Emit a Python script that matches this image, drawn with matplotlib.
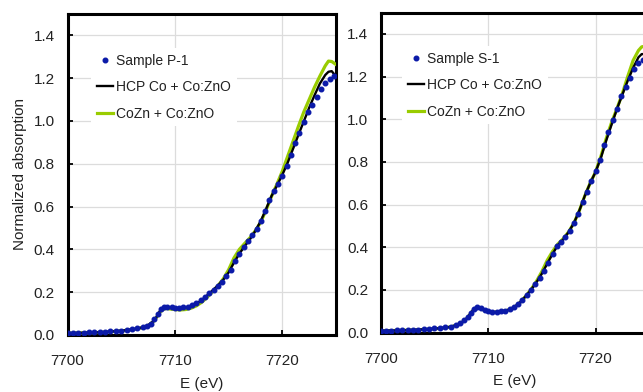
import matplotlib
matplotlib.use("Agg")
import matplotlib.pyplot as plt
from matplotlib.ticker import FixedLocator, FixedFormatter

plt.rcParams['font.family'] = ['Liberation Sans', 'DejaVu Sans']

# ---------------- data ----------------
x_ticks = [7700, 7710, 7720]
x_tick_labels = ["7700", "7710", "7720"]
y_ticks = [0.0, 0.2, 0.4, 0.6, 0.8, 1.0, 1.2, 1.4]
y_tick_labels = ["0.0", "0.2", "0.4", "0.6", "0.8", "1.0", "1.2", "1.4"]

# measured points (dots)
dot_x = [7700.0, 7700.5, 7701.0, 7701.5, 7702.0, 7702.5, 7703.0, 7703.5, 7704.0, 7704.5,
         7705.0, 7705.5, 7706.0, 7706.5, 7707.0, 7707.4, 7707.8, 7708.1, 7708.4, 7708.7,
         7709.0, 7709.3, 7709.7, 7710.0, 7710.4, 7710.8, 7711.2, 7711.6, 7712.0, 7712.4,
         7712.8, 7713.2, 7713.6, 7714.0, 7714.4, 7714.8, 7715.2, 7715.6, 7716.0, 7716.4,
         7716.8, 7717.2, 7717.6, 7718.0, 7718.4, 7718.8, 7719.2, 7719.6, 7720.0, 7720.4,
         7720.8, 7721.2, 7721.6, 7722.0, 7722.4, 7722.8, 7723.2, 7723.6, 7724.0, 7724.4,
         7724.8]
p1_dots = [0.010, 0.010, 0.011, 0.011, 0.012, 0.013, 0.014, 0.015, 0.017, 0.019,
           0.021, 0.024, 0.027, 0.031, 0.037, 0.044, 0.050, 0.075, 0.100, 0.122,
           0.131, 0.132, 0.129, 0.128, 0.127, 0.129, 0.133, 0.139, 0.148, 0.162,
           0.178, 0.195, 0.212, 0.230, 0.250, 0.275, 0.305, 0.345, 0.380, 0.410,
           0.437, 0.465, 0.497, 0.535, 0.580, 0.632, 0.672, 0.705, 0.745, 0.790,
           0.840, 0.895, 0.945, 0.995, 1.040, 1.077, 1.112, 1.148, 1.178, 1.198,
           1.212]
s1_dots = [0.008, 0.008, 0.009, 0.010, 0.011, 0.012, 0.013, 0.014, 0.016, 0.017,
           0.019, 0.021, 0.024, 0.028, 0.035, 0.043, 0.058, 0.075, 0.092, 0.110,
           0.118, 0.115, 0.105, 0.099, 0.096, 0.097, 0.099, 0.103, 0.109, 0.119,
           0.134, 0.153, 0.175, 0.200, 0.226, 0.256, 0.289, 0.328, 0.366, 0.405,
           0.425, 0.447, 0.476, 0.513, 0.557, 0.611, 0.660, 0.708, 0.755, 0.808,
           0.880, 0.942, 0.995, 1.050, 1.108, 1.152, 1.193, 1.235, 1.262, 1.279,
           1.288]

# fitted curves
fit_x = [7700, 7701, 7702, 7703, 7704, 7705, 7706, 7706.5, 7707, 7707.5,
         7708, 7708.3, 7708.6, 7708.9, 7709.2, 7709.6, 7710, 7710.5, 7711, 7711.5,
         7712, 7712.5, 7713, 7713.5, 7714, 7714.5, 7715, 7715.5, 7716, 7716.5,
         7717, 7717.5, 7718, 7718.5, 7719, 7719.5, 7720, 7720.5, 7721, 7721.5,
         7722, 7722.5, 7723, 7723.5, 7724, 7724.3, 7724.6, 7725]
p1_hcp = [0.009, 0.010, 0.011, 0.013, 0.016, 0.020, 0.026, 0.030, 0.036, 0.045,
          0.064, 0.085, 0.112, 0.128, 0.131, 0.128, 0.126, 0.125, 0.128, 0.135,
          0.146, 0.163, 0.185, 0.208, 0.231, 0.258, 0.292, 0.338, 0.380, 0.415,
          0.448, 0.487, 0.533, 0.590, 0.650, 0.698, 0.748, 0.805, 0.870, 0.935,
          0.998, 1.062, 1.120, 1.175, 1.215, 1.230, 1.233, 1.208]
p1_cozn = [0.008, 0.009, 0.010, 0.012, 0.015, 0.019, 0.025, 0.029, 0.035, 0.044,
           0.063, 0.083, 0.106, 0.120, 0.124, 0.121, 0.119, 0.117, 0.119, 0.125,
           0.136, 0.153, 0.176, 0.202, 0.230, 0.262, 0.305, 0.360, 0.400, 0.428,
           0.455, 0.488, 0.528, 0.585, 0.648, 0.705, 0.765, 0.835, 0.905, 0.975,
           1.042, 1.100, 1.158, 1.210, 1.258, 1.280, 1.278, 1.264]
s1_hcp = [0.008, 0.009, 0.010, 0.012, 0.015, 0.018, 0.023, 0.027, 0.034, 0.045,
          0.066, 0.085, 0.105, 0.117, 0.117, 0.106, 0.099, 0.096, 0.097, 0.101,
          0.108, 0.121, 0.143, 0.170, 0.200, 0.235, 0.275, 0.322, 0.368, 0.410,
          0.436, 0.471, 0.514, 0.572, 0.640, 0.700, 0.752, 0.818, 0.900, 0.975,
          1.048, 1.115, 1.180, 1.240, 1.290, 1.305, 1.305, 1.298]
s1_cozn = [0.008, 0.009, 0.010, 0.012, 0.014, 0.017, 0.022, 0.026, 0.033, 0.044,
           0.065, 0.084, 0.104, 0.116, 0.116, 0.105, 0.098, 0.095, 0.096, 0.100,
           0.107, 0.120, 0.142, 0.170, 0.202, 0.240, 0.285, 0.338, 0.380, 0.415,
           0.440, 0.472, 0.514, 0.572, 0.640, 0.700, 0.752, 0.825, 0.910, 0.985,
           1.050, 1.120, 1.200, 1.275, 1.322, 1.339, 1.342, 1.338]

panels = [
    ("Sample P-1", p1_dots, p1_hcp, p1_cozn),
    ("Sample S-1", s1_dots, s1_hcp, s1_cozn),
]

# ---------------- figure ----------------
W, H = 643, 392
fig = plt.figure(figsize=(W / 100, H / 100), dpi=100)

ax_rects = [
    [67.5 / W, (H - 335) / H, 268.5 / W, 321 / H],
    [380.7 / W, (H - 332.5) / H, 268.5 / W, 320 / H],
]
legend_anchor = [(0.089, 0.894), (0.081, 0.895)]

BLUE = '#0b1aa8'
GREEN = '#99cc00'

for i, (name, dots, hcp, cozn) in enumerate(panels):
    ax = fig.add_axes(ax_rects[i])
    ax.set_xlim(7700, 7725)
    ax.set_ylim(0, 1.5)
    ax.grid(True, color='#dcdcdc', linewidth=0.9, zorder=0)
    ax.set_axisbelow(True)

    ax.plot(fit_x, cozn, color=GREEN, lw=2.3, label="CoZn + Co:ZnO", zorder=3)
    ax.plot(fit_x, hcp, color='black', lw=1.7, label="HCP Co + Co:ZnO", zorder=4)
    ax.plot(dot_x, dots, linestyle='none', marker='o', ms=3.3, color=BLUE,
            mec=BLUE, label=name, zorder=5)

    ax.xaxis.set_major_locator(FixedLocator(x_ticks))
    ax.xaxis.set_major_formatter(FixedFormatter(x_tick_labels))
    ax.yaxis.set_major_locator(FixedLocator(y_ticks))
    ax.yaxis.set_major_formatter(FixedFormatter(y_tick_labels))
    ax.tick_params(axis='both', direction='in', length=3.5, width=1.3,
                   labelsize=11, colors='black', labelcolor='#222222')
    ax.tick_params(axis='y', pad=9)
    ax.tick_params(axis='x', pad=14)
    for sp in ax.spines.values():
        sp.set_linewidth(2.2)
        sp.set_color('black')

    ax.set_xlabel("E (eV)", fontsize=11, labelpad=6, color='#222222')
    if i == 0:
        ax.set_ylabel("Normalized absorption", fontsize=11, labelpad=5, color='#222222')

    handles, labels = ax.get_legend_handles_labels()
    order = [2, 1, 0]
    leg = ax.legend([handles[k] for k in order], [labels[k] for k in order],
                    loc='upper left', bbox_to_anchor=legend_anchor[i],
                    borderaxespad=0, borderpad=0.4, labelspacing=0.9,
                    handlelength=1.15, handletextpad=0.25, numpoints=1,
                    fontsize=10, frameon=True, fancybox=False,
                    facecolor='white', edgecolor='none', framealpha=1.0)
    for t in leg.get_texts():
        t.set_color('#222222')
    leg.set_zorder(6)

fig.savefig("out.png", dpi=100)
